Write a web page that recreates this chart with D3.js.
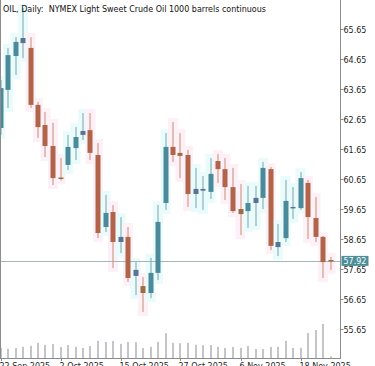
<!DOCTYPE html>
<html>
<head>
<meta charset="utf-8">
<script src="https://cdn.jsdelivr.net/npm/d3@7"></script>
<style>
	html, body { margin: 0; padding: 0; background: #fff; }
	svg { display: block; }
	text { font-family: 'DejaVu Sans', Tahoma, sans-serif; white-space: pre; }
</style>
</head>
<body>
<div id="chart"></div>
<script>
'use strict';

var title = 'OIL, Daily:  NYMEX Light Sweet Crude Oil 1000 barrels continuous';

var opens  = [62.35, 63.62, 64.75, 65.18, 65.02, 63.12, 62.45, 61.75, 60.70, 61.12,
              61.68, 62.12, 62.28, 61.45, 59.05, 59.55, 58.55, 58.72, 57.42, 57.08,
              56.85, 57.52, 59.85, 61.72, 61.52, 61.45, 60.15, 60.26, 60.22, 61.25,
              60.98, 60.38, 59.65, 59.58, 59.85, 60.02, 60.98, 58.38, 58.68, 59.68,
              59.68, 60.52, 59.35, 58.72, 57.95];
var highs  = [63.95, 65.02, 65.38, 66.35, 65.38, 63.22, 62.88, 62.52, 61.35, 62.12,
              62.38, 62.85, 62.85, 61.85, 60.12, 59.78, 59.38, 59.05, 57.88, 57.38,
              58.02, 59.78, 62.18, 62.55, 62.18, 61.62, 61.02, 60.75, 61.35, 61.48,
              61.35, 61.02, 60.48, 60.42, 60.42, 61.22, 61.05, 59.15, 60.62, 60.38,
              60.88, 60.62, 60.05, 58.75, 58.05];
var lows   = [62.12, 63.02, 64.12, 64.68, 63.02, 62.02, 61.38, 60.45, 60.60, 60.95,
              61.28, 61.95, 61.28, 58.68, 58.88, 57.68, 58.18, 57.22, 56.78, 56.22,
              56.68, 57.28, 59.62, 61.22, 60.68, 59.72, 59.68, 59.62, 59.98, 60.52,
              59.95, 59.52, 58.78, 59.02, 59.08, 59.65, 58.28, 58.08, 58.55, 59.32,
              59.62, 58.65, 58.55, 57.35, 57.62];
var closes = [63.68, 64.78, 65.22, 65.35, 63.12, 62.38, 61.75, 60.68, 60.65, 61.72,
              62.05, 62.25, 61.52, 58.85, 59.52, 58.55, 58.72, 57.35, 57.62, 56.85,
              57.52, 59.22, 61.72, 61.45, 61.42, 60.15, 60.32, 60.32, 60.82, 60.98,
              60.38, 59.58, 59.48, 59.85, 60.02, 61.02, 58.42, 58.55, 59.92, 59.72,
              60.68, 59.38, 58.72, 57.88, 57.92];
var volumes = [51000, 46000, 50000, 56000, 61000, 75000, 66000, 70000, 55000, 65000,
               56000, 50000, 60000, 86000, 80000, 85000, 71000, 80000, 79000, 50000,
               56000, 81000, 124000, 76000, 74000, 76000, 66000, 64000, 65000, 56000,
               50000, 55000, 51000, 60000, 46000, 45000, 55000, 56000, 86000, 50000,
               51000, 125000, 140000, 170000, 8000];

var priceTicks = [65.65, 64.65, 63.65, 62.65, 61.65, 60.65, 59.65, 58.65, 57.65, 56.65, 55.65];
var timeTickIdx = [0, 8, 16, 24, 32, 40];
var timeTickLabels = ['22 Sep 2025', '2 Oct 2025', '15 Oct 2025', '27 Oct 2025', '6 Nov 2025', '18 Nov 2025'];
var lastPrice = 57.92;

var W = 375, H = 366,
		plotRight = 341, plotBottom = 358;

var candles = opens.map(function (o, i) {
	return { i: i, o: o, h: highs[i], l: lows[i], c: closes[i], v: volumes[i] };
});

var x = d3.scaleLinear().domain([0, candles.length - 1]).range([0.5, 330.5]);
var y = d3.scaleLinear().domain([55.65, 65.65]).range([329, 29]);
var yv = d3.scaleLinear().domain([0, d3.max(volumes)]).range([plotBottom, plotBottom - 34]);

var upCol = '#4a8a9a', downCol = '#b2644a';

var svg = d3.select('#chart').append('svg')
						.attr('width', W)
						.attr('height', H);

var plot = svg.append('g');

plot.append('clipPath').attr('id', 'clip')
		.append('rect').attr('x', 0).attr('y', 0)
		.attr('width', plotRight).attr('height', plotBottom);

var area = plot.append('g').attr('clip-path', 'url(#clip)');

// faint colour halos around the candles
area.selectAll('.halo').data(candles).enter().append('rect')
		.attr('x', function (d) { return x(d.i) - 5; })
		.attr('y', function (d) { return y(d.h) - 4; })
		.attr('width', 10)
		.attr('height', function (d) { return y(d.l) - y(d.h) + 8; })
		.attr('fill', function (d) { return d.c >= d.o ? '#eafbfc' : '#fdf0f7'; });

// volumes
area.selectAll('.vol').data(candles).enter().append('rect')
		.attr('x', function (d) { return Math.round(x(d.i)) - 0.5; })
		.attr('y', function (d) { return yv(d.v); })
		.attr('width', 1)
		.attr('height', function (d) { return plotBottom - yv(d.v); })
		.attr('fill', '#878c94');

// price line
area.append('line')
		.attr('x1', 0).attr('x2', plotRight)
		.attr('y1', Math.round(y(lastPrice)) + 0.5)
		.attr('y2', Math.round(y(lastPrice)) + 0.5)
		.attr('stroke', '#a3b7b8').attr('stroke-width', 1);

// wicks
area.selectAll('.wick').data(candles).enter().append('line')
		.attr('x1', function (d) { return Math.round(x(d.i)); })
		.attr('x2', function (d) { return Math.round(x(d.i)); })
		.attr('y1', function (d) { return y(d.h); })
		.attr('y2', function (d) { return y(d.l); })
		.attr('stroke', function (d) { return d.c >= d.o ? '#7da3ad' : '#c48e78'; })
		.attr('stroke-width', 1);

// bodies
area.selectAll('.body').data(candles).enter().append('rect')
		.attr('x', function (d) { return Math.round(x(d.i)) - 2.5; })
		.attr('y', function (d) { return y(Math.max(d.o, d.c)); })
		.attr('width', 5)
		.attr('height', function (d) { return Math.max(1.5, Math.abs(y(d.o) - y(d.c))); })
		.attr('fill', function (d) {
			var small = Math.abs(y(d.o) - y(d.c)) < 7;
			if (d.c >= d.o) return small ? '#5b7295' : upCol;
			return small ? '#9a6e45' : downCol;
		});

// frame
svg.append('line').attr('x1', 0.5).attr('x2', 0.5).attr('y1', 0).attr('y2', plotBottom)
		.attr('stroke', '#8c8c8c');
svg.append('line').attr('x1', plotRight - 0.5).attr('x2', plotRight - 0.5).attr('y1', 0).attr('y2', plotBottom + 1)
		.attr('stroke', '#8c8c8c');
svg.append('line').attr('x1', 0).attr('x2', plotRight).attr('y1', plotBottom + 0.5).attr('y2', plotBottom + 0.5)
		.attr('stroke', '#8c8c8c');

// price axis
var yAxis = svg.append('g').attr('transform', 'translate(' + (plotRight - 0.5) + ',0)');
priceTicks.forEach(function (p) {
	var py = Math.round(y(p)) + 0.5;
	yAxis.append('line').attr('x1', 0).attr('x2', 3).attr('y1', py).attr('y2', py)
			 .attr('stroke', '#8c8c8c');
	yAxis.append('text').attr('x', 3).attr('y', py + 3)
			 .attr('font-size', '8px').attr('fill', '#1e1e1e')
			 .text(p.toFixed(2));
});

// last price label
var ly = y(lastPrice);
yAxis.append('rect').attr('x', 1).attr('y', ly - 5).attr('width', 27).attr('height', 10)
		 .attr('fill', '#4f8e96');
yAxis.append('text').attr('x', 3).attr('y', ly + 3)
		 .attr('font-size', '8px').attr('fill', '#f2ffff')
		 .text(lastPrice.toFixed(2));

// time axis
var xAxis = svg.append('g');
timeTickIdx.forEach(function (idx, k) {
	var tx = Math.round(x(idx)) + 0.5;
	xAxis.append('line').attr('x1', tx).attr('x2', tx).attr('y1', plotBottom).attr('y2', plotBottom + 3)
			 .attr('stroke', '#8c8c8c');
	xAxis.append('text').attr('x', tx - 2).attr('y', plotBottom + 11)
			 .attr('font-size', '8px').attr('fill', '#1e1e1e')
			 .text(timeTickLabels[k]);
});

// title
svg.append('text').attr('x', 3).attr('y', 12)
		.attr('font-size', '8px').attr('fill', '#111')
		.text(title);
</script>
</body>
</html>
